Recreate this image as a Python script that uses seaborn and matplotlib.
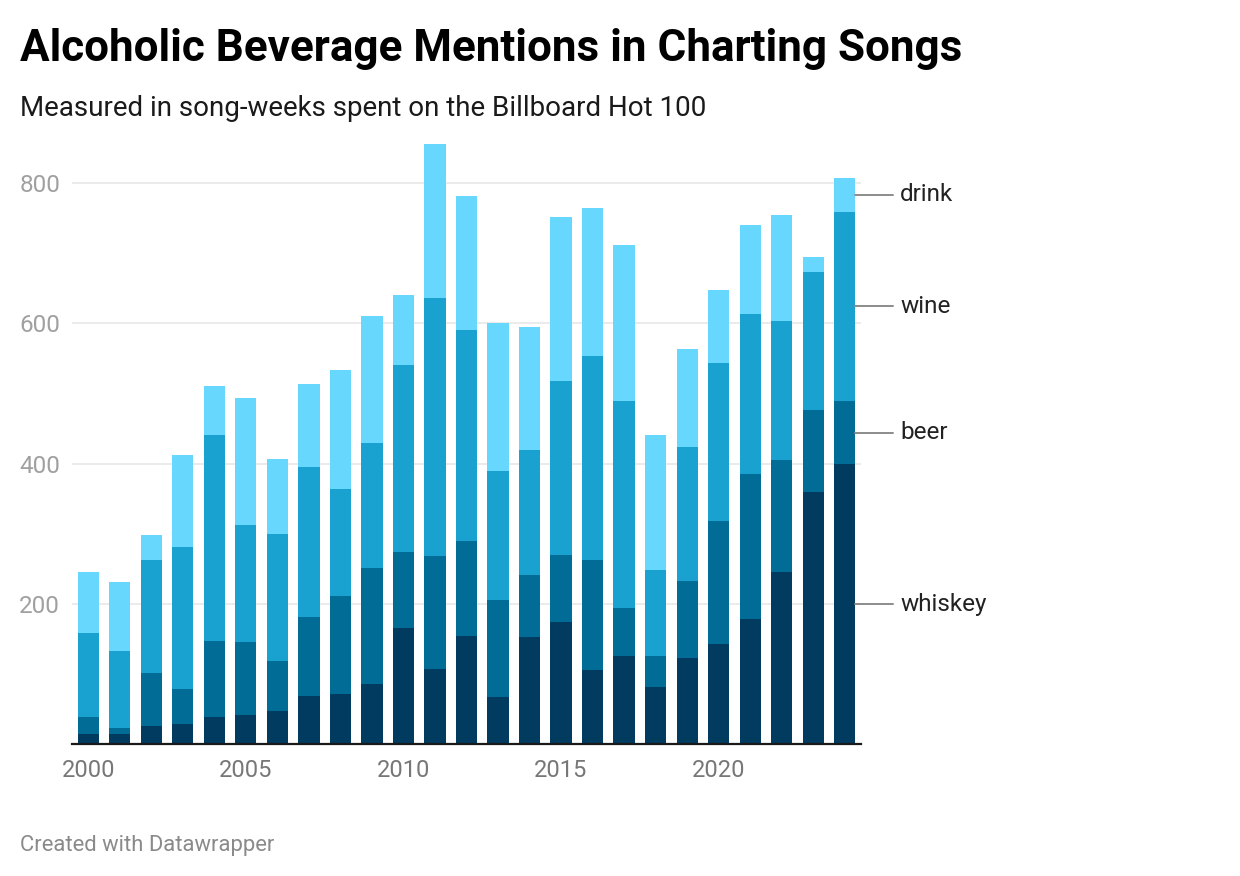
import pandas as pd
import seaborn as sns
import matplotlib.pyplot as plt

# song-weeks per year
years = list(range(2000, 2025))
whiskey = [14, 14, 26, 29, 38, 41, 47, 68, 71, 85, 166, 107, 154, 67, 152, 174, 105, 125, 81, 123, 143, 178, 245, 359, 399]
beer = [24, 9, 75, 49, 109, 104, 71, 113, 140, 166, 108, 161, 135, 138, 89, 95, 157, 69, 44, 110, 175, 207, 160, 117, 90]
wine = [120, 109, 161, 203, 293, 167, 181, 214, 152, 178, 266, 368, 301, 184, 178, 248, 292, 295, 123, 190, 225, 228, 198, 197, 270]
drink = [87, 99, 36, 131, 70, 181, 107, 118, 170, 181, 100, 219, 191, 211, 175, 234, 210, 223, 192, 140, 105, 127, 151, 22, 48]

categories = ["whiskey", "beer", "wine", "drink"]
colors = {"whiskey": "#013b60", "beer": "#016d97", "wine": "#19a2cf", "drink": "#68d7fe"}

series = {"whiskey": whiskey, "beer": beer, "wine": wine, "drink": drink}
df = pd.concat(
    [pd.DataFrame({"year": years, "kind": k, "weeks": v}) for k, v in series.items()],
    ignore_index=True,
)

sns.set_style("white")
plt.rcParams["font.family"] = ["Roboto", "DejaVu Sans"]

fig = plt.figure(figsize=(12.4, 8.76), dpi=100)
ax = fig.add_axes([0.05806, 0.1507, 0.6363, 0.7044])

# stacked bars: first hue level ends up on top of the stack
sns.histplot(
    data=df, x="year", weights="weeks", hue="kind",
    hue_order=categories[::-1], palette=colors,
    multiple="stack", discrete=True, shrink=0.67,
    linewidth=0, edgecolor="none", alpha=1, legend=False, ax=ax,
)

ax.set_xlim(1999.48, 2024.52)
ax.set_ylim(0, 880)
ax.set_yticks([200, 400, 600, 800])
ax.set_xticks([2000, 2005, 2010, 2015, 2020])
ax.set_xlabel("")
ax.set_ylabel("")
ax.grid(axis="y", color="#e6e6e6", linewidth=1.1)
ax.set_axisbelow(True)
for s in ["top", "right", "left"]:
    ax.spines[s].set_visible(False)
ax.spines["bottom"].set_color("#1a1a1a")
ax.spines["bottom"].set_linewidth(1.6)
ax.tick_params(axis="y", length=0, pad=8.6, labelsize=17.5, labelcolor="#a0a0a0")
ax.tick_params(axis="x", length=0, pad=11, labelsize=17, labelcolor="#777777")

# direct labels at the right of the last bar
last = {k: v[-1] for k, v in series.items()}
base = 0
for k in categories:
    mid = base + last[k] / 2
    base += last[k]
    ax.plot([years[-1] + 0.335, years[-1] + 1.54], [mid, mid], color="#8c8c8c",
            linewidth=1.4, clip_on=False)
    ax.text(years[-1] + 1.76, mid, k, ha="left", va="center", fontsize=17.5,
            color="#222222", clip_on=False)

fig.text(20 / 1240, 0.930, "Alcoholic Beverage Mentions in Charting Songs",
         fontsize=31.7, fontweight="bold", color="#000000", ha="left", va="baseline")
fig.text(20 / 1240, 0.868, "Measured in song-weeks spent on the Billboard Hot 100",
         fontsize=20, color="#1a1a1a", ha="left", va="baseline")
fig.text(20 / 1240, 0.0285, "Created with Datawrapper",
         fontsize=15.8, color="#8a8a8a", ha="left", va="baseline")

fig.savefig("out.png", dpi=100)
